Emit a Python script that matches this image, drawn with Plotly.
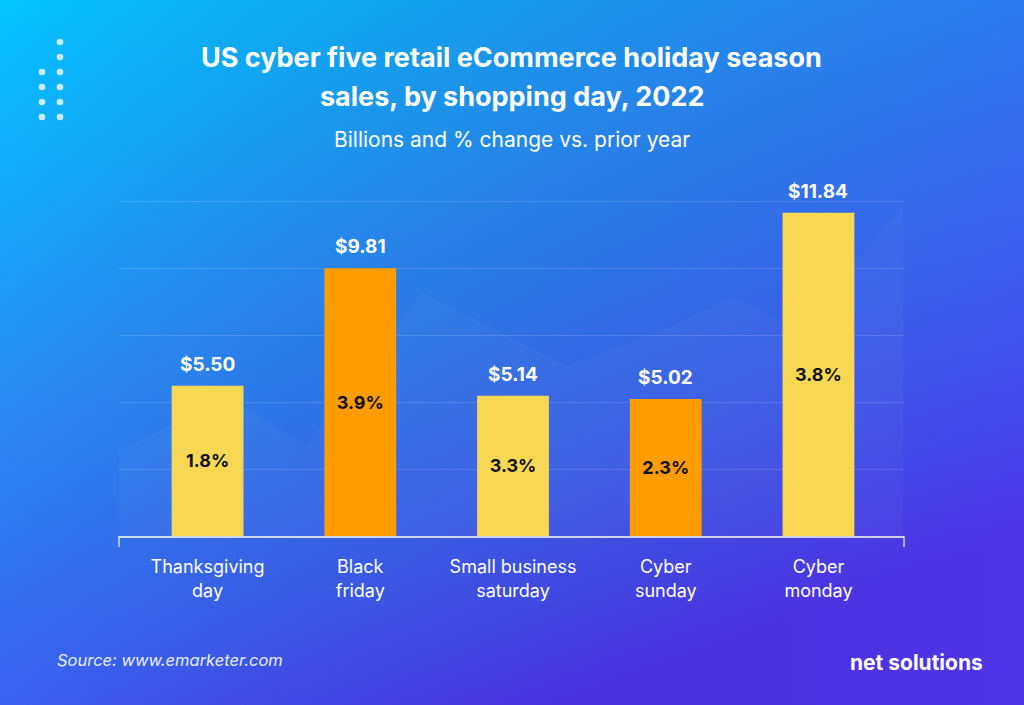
import base64
import plotly.graph_objects as go

# data
days = ["Thanksgiving<br>day", "Black<br>friday", "Small business<br>saturday",
        "Cyber<br>sunday", "Cyber<br>monday"]
sales = [5.50, 9.81, 5.14, 5.02, 11.84]
change = [1.8, 3.9, 3.3, 2.3, 3.8]
bar_colors = ["#F8D755", "#FF9C00", "#F8D755", "#FF9C00", "#F8D755"]

W, H = 1024, 705
L, R, T, B = 119, 120, 192, 169
PW, PH = W - L - R, H - T - B

FONT = "Inter"

# background: gradient + decorative dots + faint area shape
dots = ""
for cx, rows in [(42, [72, 87, 102, 117]), (60, [42, 57, 72, 87, 102, 117])]:
    for cy in rows:
        dots += f'<circle cx="{cx}" cy="{cy}" r="3.3" fill="#E6F7FF" fill-opacity="0.85"/>'
svg = f'''<svg xmlns="http://www.w3.org/2000/svg" width="{W}" height="{H}" viewBox="0 0 {W} {H}">
<defs><linearGradient id="g" x1="0" y1="0" x2="0.55" y2="1">
<stop offset="0" stop-color="#02C4FF"/>
<stop offset="0.45" stop-color="#2A8AF4"/>
<stop offset="0.8" stop-color="#3D5CEF"/>
<stop offset="1" stop-color="#5036EA"/>
</linearGradient>
<linearGradient id="g2" x1="0" y1="0" x2="1" y2="0">
<stop offset="0" stop-color="#000000" stop-opacity="0"/>
<stop offset="1" stop-color="#4B2FE0" stop-opacity="0.2"/>
</linearGradient></defs>
<rect width="{W}" height="{H}" fill="url(#g)"/>
<rect width="{W}" height="{H}" fill="url(#g2)"/>
<polygon points="119,536 119,450 230,398 306,445 422,292 567,366 650,335 735,297 800,330 903,205 903,536" fill="#FFFFFF" fill-opacity="0.03"/>
{dots}
</svg>'''
bg_src = "data:image/svg+xml;base64," + base64.b64encode(svg.encode()).decode()

fig = go.Figure()
fig.add_trace(go.Bar(
    x=days, y=sales, marker=dict(color=bar_colors, line=dict(width=0)),
    text=[f"{c:.1f}%" for c in change], textposition="inside",
    insidetextanchor="middle", textangle=0,
    textfont=dict(family=FONT, size=18, color="#111111", weight=700),
    hoverinfo="skip",
))


def py(p):
    return (H - B - p) / PH


def px_(p):
    return (p - L) / PW


annotations = [
    dict(text="US cyber five retail eCommerce holiday season", x=0.5, y=py(57)),
    dict(text="sales, by shopping day, 2022", x=0.5, y=py(97)),
]
for a in annotations:
    a.update(xref="paper", yref="paper", showarrow=False, xanchor="center",
             yanchor="middle", font=dict(family=FONT, size=27, color="white", weight=700))
annotations.append(dict(
    text="Billions and % change vs. prior year", x=0.5, y=py(139), xref="paper",
    yref="paper", showarrow=False, xanchor="center", yanchor="middle",
    font=dict(family=FONT, size=21, color="white")))
annotations.append(dict(
    text="<i>Source: www.emarketer.com</i>", x=px_(55), y=py(660), xref="paper",
    yref="paper", showarrow=False, xanchor="left", yanchor="middle",
    font=dict(family=FONT, size=16.5, color="#E8EEFF")))
annotations.append(dict(
    text="<b>net solutions</b>", x=px_(985), y=py(662), xref="paper",
    yref="paper", showarrow=False, xanchor="right", yanchor="middle",
    font=dict(family=FONT, size=21, color="white")))
# value labels above bars
for d, v in zip(days, sales):
    annotations.append(dict(
        x=d, y=v, xref="x", yref="y", text=f"${v:.2f}", showarrow=False,
        yanchor="bottom", yshift=8,
        font=dict(family=FONT, size=19, color="white", weight=700)))

fig.update_layout(
    width=W, height=H,
    margin=dict(l=L, r=R, t=T, b=B, pad=0),
    paper_bgcolor="#2A8AF4", plot_bgcolor="rgba(0,0,0,0)",
    showlegend=False, bargap=0.53,
    annotations=annotations,
    images=[dict(source=bg_src, xref="paper", yref="paper",
                 x=-L / PW, y=1 + T / PH, sizex=W / PW, sizey=H / PH,
                 xanchor="left", yanchor="top", sizing="stretch", layer="below")],
    shapes=[
        dict(type="line", xref="paper", yref="paper", x0=0, x1=0, y0=0, y1=-11 / PH,
             line=dict(color="rgba(255,255,255,0.75)", width=1.5)),
        dict(type="line", xref="paper", yref="paper", x0=1, x1=1, y0=0, y1=-11 / PH,
             line=dict(color="rgba(255,255,255,0.75)", width=1.5)),
    ],
    xaxis=dict(range=[-0.58, 4.56], showline=True, linecolor="rgba(255,255,255,0.75)",
               linewidth=1.5, showgrid=False, ticks="", ticklabelstandoff=14,
               tickfont=dict(family=FONT, size=18, color="white"), fixedrange=True),
    yaxis=dict(range=[0, 12.6], tick0=0, dtick=2.45, showticklabels=False,
               showgrid=True, gridcolor="rgba(255,255,255,0.14)", gridwidth=1,
               zeroline=False, fixedrange=True),
)

fig.write_html("out.html", config={"displayModeBar": False},
               post_script="document.body.style.margin='0';")
